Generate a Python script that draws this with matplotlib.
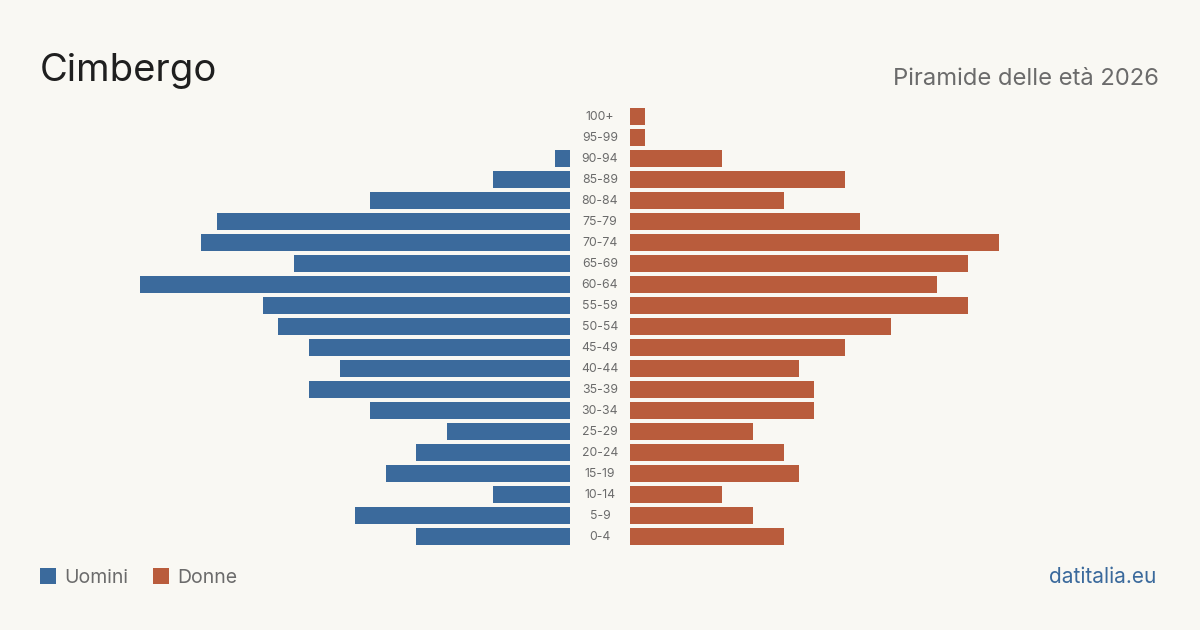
import matplotlib
matplotlib.use("Agg")
import matplotlib.pyplot as plt
from matplotlib.patches import Rectangle

plt.rcParams['font.family'] = ['Inter', 'DejaVu Sans']

age_groups = ["0-4", "5-9", "10-14", "15-19", "20-24", "25-29", "30-34", "35-39",
              "40-44", "45-49", "50-54", "55-59", "60-64", "65-69", "70-74", "75-79",
              "80-84", "85-89", "90-94", "95-99", "100+"]
men = [10, 14, 5, 12, 10, 8, 13, 17, 15, 17, 19, 20, 28, 18, 24, 23, 13, 5, 1, 0, 0]
women = [10, 8, 6, 11, 10, 8, 12, 12, 11, 14, 17, 22, 20, 22, 24, 15, 10, 14, 6, 1, 1]

BG = "#f9f8f3"
BLUE = "#3b6a9c"
RED = "#b95c3c"
GRAY = "#6b6b6b"
W, H = 1200, 630

fig = plt.figure(figsize=(12, 6.3), dpi=100, facecolor=BG)

top, bottom = 106, 547
axb = (H - bottom) / H
axh = (bottom - top) / H
vmax = 28

axL = fig.add_axes([140 / W, axb, 430 / W, axh])
axR = fig.add_axes([630 / W, axb, 430 / W, axh])
axM = fig.add_axes([570 / W, axb, 60 / W, axh])

ypos = list(range(len(age_groups)))
for ax in (axL, axR, axM):
    ax.set_facecolor("none")
    ax.set_ylim(-0.5, len(age_groups) - 0.5)
    ax.axis("off")

axL.barh(ypos, men, height=0.81, color=BLUE)
axL.set_xlim(vmax, 0)
axR.barh(ypos, women, height=0.81, color=RED)
axR.set_xlim(0, vmax)
axM.set_xlim(0, 1)
for y, lab in zip(ypos, age_groups):
    axM.text(0.5, y - 0.04, lab, ha="center", va="center", fontsize=8.8, color=GRAY)

fig.text(40 / W, 1 - 81 / H, "Cimbergo", fontsize=27.5, color="#1f1f1f", ha="left", va="baseline")
fig.text(1159 / W, 1 - 85 / H, "Piramide delle età 2026", fontsize=17.1, color=GRAY,
         ha="right", va="baseline")

fig.patches.append(Rectangle((40 / W, 1 - 584 / H), 16 / W, 16 / H, transform=fig.transFigure,
                             facecolor=BLUE, edgecolor="none"))
fig.text(64 / W, 1 - 583 / H, "Uomini", fontsize=14, color=GRAY, ha="left", va="baseline")
fig.patches.append(Rectangle((153 / W, 1 - 584 / H), 16 / W, 16 / H, transform=fig.transFigure,
                             facecolor=RED, edgecolor="none"))
fig.text(177 / W, 1 - 583 / H, "Donne", fontsize=14, color=GRAY, ha="left", va="baseline")
fig.text(1156 / W, 1 - 583 / H, "datitalia.eu", fontsize=15, color=BLUE, ha="right", va="baseline")

fig.savefig("out.png", dpi=100, facecolor=BG)
